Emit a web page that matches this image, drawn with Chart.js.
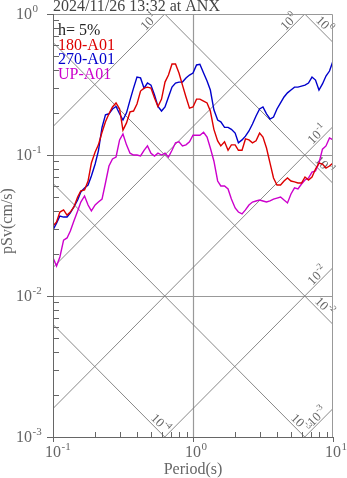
<!DOCTYPE html>
<html>
<head>
<meta charset="utf-8">
<title>pSv spectrum ANX</title>
<script src="https://cdn.jsdelivr.net/npm/chart.js@4.4.1/dist/chart.umd.min.js"></script>
<style>
  html, body { margin: 0; padding: 0; background: #fff; }
  canvas { display: block; }
</style>
</head>
<body>
<canvas id="spectrumChart" width="347" height="478"></canvas>
<script>
// Pseudo velocity response spectra, h = 5%, 2024/11/26 13:32 at ANX

const periods = [
    0.1, 0.106, 0.112, 0.119, 0.126, 0.133, 0.141, 0.15, 0.158, 0.168,
    0.178, 0.188, 0.2, 0.211, 0.224, 0.237, 0.251, 0.266, 0.282, 0.299,
    0.316, 0.335, 0.355, 0.376, 0.398, 0.422, 0.447, 0.473, 0.501, 0.531,
    0.562, 0.596, 0.631, 0.668, 0.708, 0.75, 0.794, 0.841, 0.891, 0.944,
    1.0, 1.06, 1.12, 1.19, 1.26, 1.33, 1.41, 1.5, 1.58, 1.68,
    1.78, 1.88, 2.0, 2.11, 2.24, 2.37, 2.51, 2.66, 2.82, 2.99,
    3.16, 3.35, 3.55, 3.76, 3.98, 4.22, 4.47, 4.73, 5.01, 5.31,
    5.62, 5.96, 6.31, 6.68, 7.08, 7.5, 7.94, 8.41, 8.91, 9.44,
    10.0
];

const pSv180 = [
    0.0313, 0.0335, 0.0394, 0.0408, 0.0375, 0.0394, 0.0428, 0.0504, 0.0556, 0.0565,
    0.0654, 0.0877, 0.105, 0.118, 0.145, 0.172, 0.196, 0.219, 0.234, 0.212,
    0.150, 0.169, 0.202, 0.205, 0.230, 0.284, 0.298, 0.303, 0.298, 0.254,
    0.221, 0.249, 0.329, 0.369, 0.442, 0.442, 0.381, 0.313, 0.258, 0.215,
    0.219, 0.249, 0.249, 0.241, 0.234, 0.205, 0.152, 0.126, 0.116, 0.124,
    0.108, 0.118, 0.118, 0.108, 0.108, 0.130, 0.128, 0.122, 0.126, 0.143,
    0.134, 0.112, 0.0877, 0.0687, 0.0613, 0.0613, 0.0654, 0.0687, 0.0654, 0.0644,
    0.0633, 0.0633, 0.0698, 0.0665, 0.0698, 0.0796, 0.0877, 0.0863, 0.0808, 0.0835,
    0.0877
];

const pSv270 = [
    0.0294, 0.0329, 0.0369, 0.0363, 0.0363, 0.0388, 0.0428, 0.0479, 0.0547, 0.0584,
    0.0613, 0.0710, 0.0863, 0.107, 0.157, 0.193, 0.196, 0.212, 0.221, 0.196,
    0.177, 0.199, 0.245, 0.298, 0.357, 0.352, 0.298, 0.324, 0.313, 0.266,
    0.221, 0.205, 0.219, 0.258, 0.303, 0.324, 0.329, 0.329, 0.352, 0.369,
    0.381, 0.435, 0.44, 0.381, 0.335, 0.289, 0.209, 0.177, 0.172, 0.157,
    0.157, 0.152, 0.143, 0.122, 0.128, 0.136, 0.148, 0.166, 0.189, 0.212,
    0.219, 0.196, 0.180, 0.186, 0.212, 0.234, 0.258, 0.276, 0.289, 0.303,
    0.303, 0.308, 0.313, 0.324, 0.357, 0.340, 0.289, 0.319, 0.363, 0.394,
    0.464
];

const pSvUP = [
    0.0187, 0.0163, 0.0189, 0.0249, 0.0258, 0.0289, 0.0340, 0.0401, 0.0464, 0.0512,
    0.0442, 0.0401, 0.0442, 0.0464, 0.0487, 0.0633, 0.0835, 0.0937, 0.0968, 0.128,
    0.141, 0.118, 0.103, 0.100, 0.100, 0.0984, 0.108, 0.116, 0.103, 0.0984,
    0.103, 0.100, 0.103, 0.0968, 0.108, 0.122, 0.124, 0.116, 0.118, 0.124,
    0.138, 0.138, 0.138, 0.145, 0.134, 0.112, 0.0907, 0.0654, 0.0603, 0.0603,
    0.0574, 0.0487, 0.0421, 0.0394, 0.0382, 0.0408, 0.0442, 0.0464, 0.0472, 0.0479,
    0.0472, 0.0464, 0.0472, 0.0487, 0.0495, 0.0504, 0.0479, 0.0457, 0.0529, 0.0584,
    0.0574, 0.0623, 0.0665, 0.0687, 0.0757, 0.0770, 0.0877, 0.110, 0.116, 0.132,
    0.128
];

const seriesNames = ['180-A01', '270-A01', 'UP-A01'];
const seriesColors = ['#dd0000', '#0000cc', '#cc00cc'];

// tripartite guide lines: displacement (cm) and acceleration (cm/s2)
const dispLevels = [1e-4, 1e-3, 1e-2, 1e-1, 1];
const accLevels = [1e-3, 1e-2, 1e-1, 1, 10];

const xDecades = [0.1, 1, 10];
const yDecades = [0.001, 0.01, 0.1, 1];

const titleText = '2024/11/26 13:32 at ANX';
const dampingText = 'h= 5%';

const FONT = '"Liberation Serif", "DejaVu Serif", serif';
const TWO_PI = 2 * Math.PI;

function toPoints(values) {
    return periods.map((t, i) => ({ x: t, y: values[i] }));
}

function expOf(v) {
    return Math.round(Math.log10(v));
}

// "10" followed by a raised exponent; x is the left edge, y the middle
function drawPower(ctx, exp, x, y, size) {
    ctx.textAlign = 'left';
    ctx.textBaseline = 'middle';
    ctx.font = size + 'px ' + FONT;
    ctx.fillText('10', x, y);
    const w1 = ctx.measureText('10').width;
    ctx.font = Math.round(size * 0.7) + 'px ' + FONT;
    ctx.fillText(String(exp), x + w1 + 0.5, y - size * 0.38);
}

function powerWidths(ctx, exp, size) {
    ctx.font = size + 'px ' + FONT;
    const w1 = ctx.measureText('10').width;
    ctx.font = Math.round(size * 0.7) + 'px ' + FONT;
    const w2 = ctx.measureText(String(exp)).width;
    return [w1, w2];
}

const tripartite = {
    id: 'tripartite',

    beforeDatasetsDraw(chart) {
        const { ctx, chartArea: a, scales: { x, y } } = chart;
        ctx.save();
        ctx.beginPath();
        ctx.rect(a.left, a.top, a.right - a.left, a.bottom - a.top);
        ctx.clip();

        // grid at inner decades
        ctx.strokeStyle = '#999';
        ctx.lineWidth = 1.2;
        xDecades.slice(1, -1).forEach(t => {
            const px = Math.round(x.getPixelForValue(t)) + 0.5;
            ctx.beginPath(); ctx.moveTo(px, a.top); ctx.lineTo(px, a.bottom); ctx.stroke();
        });
        yDecades.slice(1, -1).forEach(v => {
            const py = Math.round(y.getPixelForValue(v)) + 0.5;
            ctx.beginPath(); ctx.moveTo(a.left, py); ctx.lineTo(a.right, py); ctx.stroke();
        });

        // diagonal lines
        ctx.strokeStyle = '#7a7a7a';
        ctx.lineWidth = 0.9;
        const tLo = 0.05, tHi = 20;
        dispLevels.forEach(sd => {
            ctx.beginPath();
            ctx.moveTo(x.getPixelForValue(tLo), y.getPixelForValue(TWO_PI * sd / tLo));
            ctx.lineTo(x.getPixelForValue(tHi), y.getPixelForValue(TWO_PI * sd / tHi));
            ctx.stroke();
        });
        accLevels.forEach(sa => {
            ctx.beginPath();
            ctx.moveTo(x.getPixelForValue(tLo), y.getPixelForValue(sa * tLo / TWO_PI));
            ctx.lineTo(x.getPixelForValue(tHi), y.getPixelForValue(sa * tHi / TWO_PI));
            ctx.stroke();
        });
        ctx.restore();

        // labels of the diagonal lines, near where each line leaves the plot
        ctx.save();
        ctx.fillStyle = '#666';
        const s = Math.SQRT1_2;
        const size = 13;
        dispLevels.forEach(sd => {
            let t = 10, v = TWO_PI * sd / 10, bottomEnd = false;
            if (v < 0.001) { v = 0.001; t = TWO_PI * sd / 0.001; bottomEnd = true; }
            const ex = x.getPixelForValue(t), ey = y.getPixelForValue(v);
            const along = bottomEnd ? 13 : 19, perp = 6;
            const cx = ex - along * s + perp * s;
            const cy = ey - along * s - perp * s;
            const exp = expOf(sd);
            const [w1, w2] = powerWidths(ctx, exp, size);
            ctx.save();
            ctx.translate(cx, cy);
            ctx.rotate(Math.PI / 4);
            drawPower(ctx, exp, -(w1 + w2) / 2, 0, size);
            ctx.restore();
        });
        accLevels.forEach(sa => {
            let t = 10, v = sa * 10 / TWO_PI;
            if (v > 1) { v = 1; t = TWO_PI / sa; }
            const ex = x.getPixelForValue(t), ey = y.getPixelForValue(v);
            const along = 17, perp = 5;
            const cx = ex - along * s - perp * s;
            const cy = ey + along * s - perp * s;
            const exp = expOf(sa);
            const [w1, w2] = powerWidths(ctx, exp, size);
            ctx.save();
            ctx.translate(cx, cy);
            ctx.rotate(-Math.PI / 4);
            drawPower(ctx, exp, -(w1 + w2) / 2, 0, size);
            ctx.restore();
        });
        ctx.restore();
    },

    afterDatasetsDraw(chart) {
        const { ctx, chartArea: a, scales: { x, y } } = chart;
        ctx.save();

        // frame
        ctx.lineWidth = 1;
        ctx.strokeStyle = '#999';
        ctx.beginPath();
        ctx.moveTo(a.left + 0.5, a.top + 0.5);
        ctx.lineTo(a.right - 0.5, a.top + 0.5);
        ctx.lineTo(a.right - 0.5, a.bottom);
        ctx.stroke();
        ctx.strokeStyle = '#666';
        ctx.beginPath();
        ctx.moveTo(a.left + 0.5, a.top);
        ctx.lineTo(a.left + 0.5, a.bottom + 0.5);
        ctx.lineTo(a.right, a.bottom + 0.5);
        ctx.stroke();

        // ticks
        ctx.beginPath();
        for (let i = 0; i < yDecades.length - 1; i++) {
            for (let m = 2; m <= 9; m++) {
                const py = Math.round(y.getPixelForValue(yDecades[i] * m)) + 0.5;
                ctx.moveTo(a.left, py); ctx.lineTo(a.left + 6, py);
            }
        }
        yDecades.forEach(v => {
            const py = Math.round(y.getPixelForValue(v)) + 0.5;
            ctx.moveTo(a.left - 6, py); ctx.lineTo(a.left, py);
        });
        for (let i = 0; i < xDecades.length - 1; i++) {
            for (let m = 2; m <= 9; m++) {
                const px = Math.round(x.getPixelForValue(xDecades[i] * m)) + 0.5;
                ctx.moveTo(px, a.bottom); ctx.lineTo(px, a.bottom - 5);
            }
        }
        xDecades.forEach(t => {
            const px = Math.round(x.getPixelForValue(t)) + 0.5;
            ctx.moveTo(px, a.bottom); ctx.lineTo(px, a.bottom + 5);
        });
        ctx.stroke();

        // tick labels
        ctx.fillStyle = '#666';
        const tickSize = 16;
        yDecades.forEach(v => {
            const exp = expOf(v);
            const [w1] = powerWidths(ctx, exp, tickSize);
            drawPower(ctx, exp, 32 - w1, y.getPixelForValue(v) + 1, tickSize);
        });
        xDecades.forEach(t => {
            const exp = expOf(t);
            const [w1] = powerWidths(ctx, exp, tickSize);
            drawPower(ctx, exp, x.getPixelForValue(t) - w1 / 2, 453, tickSize);
        });

        // axis titles
        ctx.font = '16px ' + FONT;
        ctx.textAlign = 'center';
        ctx.textBaseline = 'middle';
        ctx.fillText('Period(s)', (a.left + a.right) / 2, 470);
        ctx.save();
        ctx.translate(8, 221);
        ctx.rotate(-Math.PI / 2);
        ctx.fillText('pSv(cm/s)', 0, 0);
        ctx.restore();

        // title
        ctx.fillStyle = '#444';
        ctx.textAlign = 'left';
        ctx.textBaseline = 'alphabetic';
        ctx.fillText(titleText, a.left, 11);

        // legend
        ctx.fillStyle = '#222';
        ctx.fillText(dampingText, a.left + 5, 35);
        seriesNames.forEach((name, i) => {
            ctx.fillStyle = seriesColors[i];
            ctx.fillText(name, a.left + 5, 50 + i * 14.3);
        });

        ctx.restore();
    }
};

const spectrumChart = new Chart(document.getElementById('spectrumChart'), {
    type: 'line',
    data: {
        datasets: [
            { label: seriesNames[0], data: toPoints(pSv180), borderColor: seriesColors[0] },
            { label: seriesNames[1], data: toPoints(pSv270), borderColor: seriesColors[1] },
            { label: seriesNames[2], data: toPoints(pSvUP), borderColor: seriesColors[2] }
        ]
    },
    options: {
        responsive: false,
        animation: false,
        devicePixelRatio: 1,
        layout: {
            padding: { left: 53, right: 14, top: 14, bottom: 41 }
        },
        elements: {
            point: { radius: 0 },
            line: { borderWidth: 1.4, tension: 0, fill: false }
        },
        scales: {
            x: { type: 'logarithmic', min: 0.1, max: 10, display: false },
            y: { type: 'logarithmic', min: 0.001, max: 1, display: false }
        },
        plugins: {
            legend: { display: false },
            title: { display: false },
            tooltip: { enabled: false }
        }
    },
    plugins: [tripartite]
});
</script>
</body>
</html>
